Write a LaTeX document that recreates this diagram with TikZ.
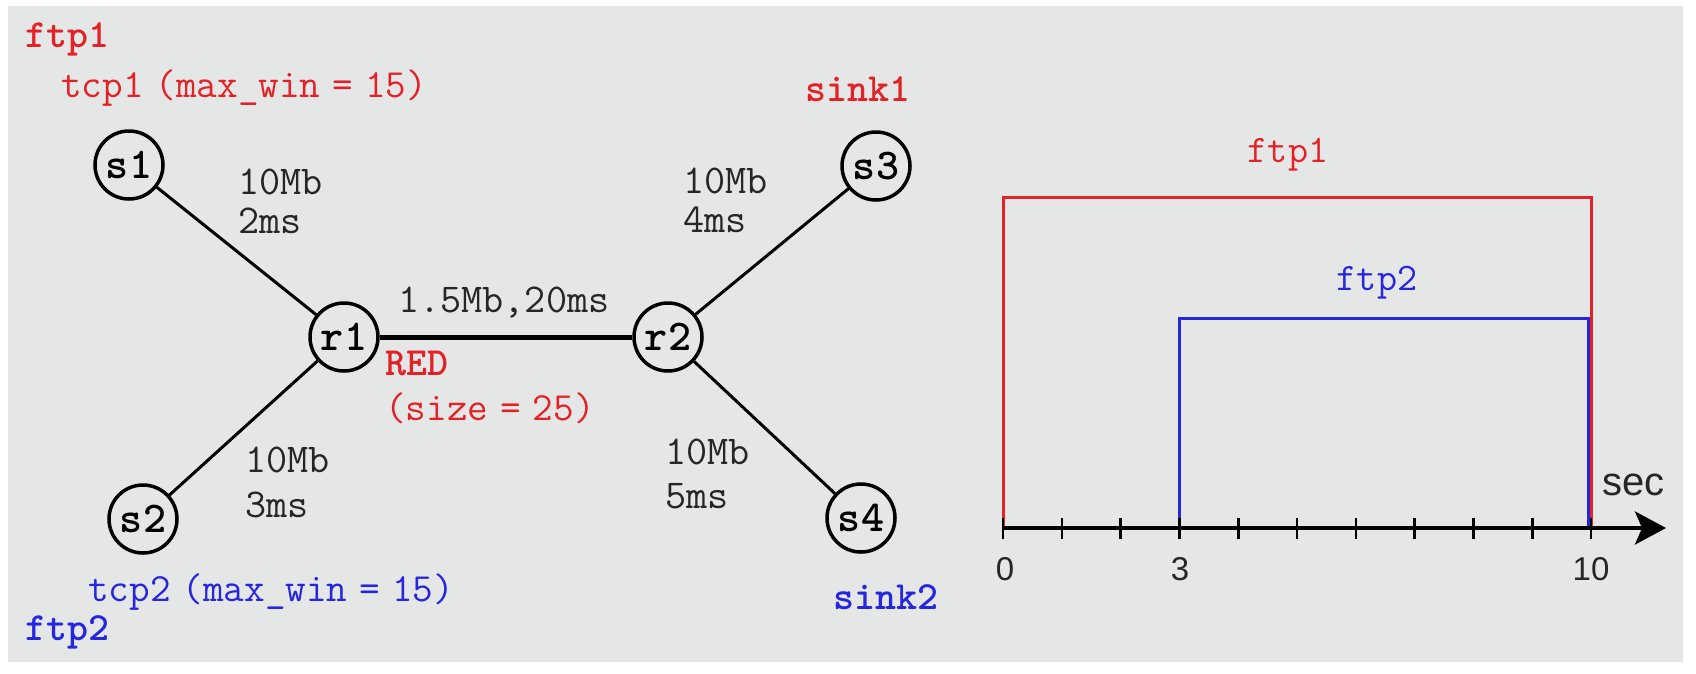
\documentclass[tikz,border=0pt]{standalone}
\usepackage{fontspec}
\usetikzlibrary{arrows.meta}

% typewriter faces (Latin Modern Mono) for the network labels, a sans for the time axis
\newfontfamily\axisfont{Liberation Sans}

\definecolor{netred}{RGB}{226,34,38}
\definecolor{netblue}{RGB}{38,38,222}
\definecolor{paper}{RGB}{229,231,231}

\newcommand{\gap}{\hspace{0.3em}}

\begin{document}
\begin{tikzpicture}[x=1pt,y=-1pt,
  host/.style={circle,draw=black,line width=3.5pt,minimum size=68pt,inner sep=0pt,
    font=\ttfamily\bfseries\fontsize{44}{44}\selectfont},
  link/.style={line width=3pt},
  trunk/.style={line width=5pt},
  agent/.style={anchor=base west,inner sep=0pt,font=\ttfamily\fontsize{40}{40}\selectfont},
  agentb/.style={agent,font=\ttfamily\bfseries\fontsize{40}{40}\selectfont},
  figure/.style={anchor=base west,inner sep=0pt,text=black!85,
    font=\ttfamily\fontsize{41}{41}\selectfont},
  flowlab/.style={anchor=base,inner sep=0pt,font=\ttfamily\fontsize{39}{39}\selectfont},
  ticklab/.style={anchor=base,inner sep=0pt,text=black!85,
    font=\axisfont\fontsize{33}{33}\selectfont},
  flow/.style={line width=3pt,line join=miter},
  axis/.style={line width=4pt,-{Stealth[length=31pt,width=33pt,inset=7pt]}},
  tickmark/.style={line width=2.6pt}
]
\useasboundingbox (0,0) rectangle (1696,673);
\fill[white] (0,0) rectangle (1696,673);
\fill[paper] (8,6) rectangle (1683,662);

% ---------- dumbbell network ----------
\node[host] (s1) at (129,165) {s1};
\node[host] (s2) at (143,519) {s2};
\node[host] (r1) at (344,337) {r1};
\node[host] (r2) at (668,337) {r2};
\node[host] (s3) at (876,166) {s3};
\node[host] (s4) at (861,518) {s4};

\draw[link] (s1) -- (r1);
\draw[link] (s2) -- (r1);
\draw[trunk] (r1) -- (r2);
\draw[link] (r2) -- (s3);
\draw[link] (r2) -- (s4);

% link bandwidth and delay
\node[figure] (f1a) at (238,194) {10Mb};
\node[figure] (f1b) at (238,233) {2ms};
\node[figure] (f2a) at (245,472) {10Mb};
\node[figure] (f2b) at (245,517) {3ms};
\node[figure] (f0)  at (398,312) {1.5Mb,20ms};
\node[figure] (f3a) at (683,193) {10Mb};
\node[figure] (f3b) at (683,232) {4ms};
\node[figure] (f4a) at (665,464) {10Mb};
\node[figure] (f4b) at (665,508) {5ms};

% traffic sources, sinks and queue
\node[agentb,text=netred] (ftpa) at (25,47) {ftp1};
\node[agent,text=netred] (tcpa) at (61,97) {tcp1\gap(max\_win\gap=\gap15)};
\node[agentb,text=netred] (snka) at (805,101) {sink1};
\node[agentb,text=netred] (red) at (385,375) {RED};
\node[agent,text=netred] (qsz) at (385,420) {(size\gap=\gap25)};
\node[agent,text=netblue] (tcpb) at (88,601) {tcp2\gap(max\_win\gap=\gap15)};
\node[agentb,text=netblue] (ftpb) at (25,640) {ftp2};
\node[agentb,text=netblue] (snkb) at (833,609) {sink2};

% ---------- activity time line ----------
\coordinate (t0) at (1003,528);
\coordinate (t3) at (1179.4,528);
\coordinate (t10) at (1591,528);
\coordinate (tend) at (1666,528);
\coordinate (ftpatop) at (1003,197);
\coordinate (ftpbtop) at (1179.4,318);

\draw[flow,netred] (t0) -- (ftpatop) -| (t10);
\draw[flow,netblue] (t3) -- (ftpbtop) -| ([xshift=-2.5pt]t10);

\foreach \k in {0,...,10}
  \draw[tickmark] (1003+58.8*\k,518) -- (1003+58.8*\k,539);
\draw[axis] (t0) -- (tend);

\node[flowlab,text=netred] (fl1) at (1288,162) {ftp1};
\node[flowlab,text=netblue] (fl2) at (1377,290) {ftp2};
\node[anchor=base west,inner sep=0pt,text=black!85,
  font=\axisfont\fontsize{40}{40}\selectfont] (unit) at (1602,495) {sec};
\node[ticklab] (n0) at (1005,580) {0};
\node[ticklab] (n3) at (1180,580) {3};
\node[ticklab] (n10) at (1591,580) {10};
\end{tikzpicture}
\end{document}
